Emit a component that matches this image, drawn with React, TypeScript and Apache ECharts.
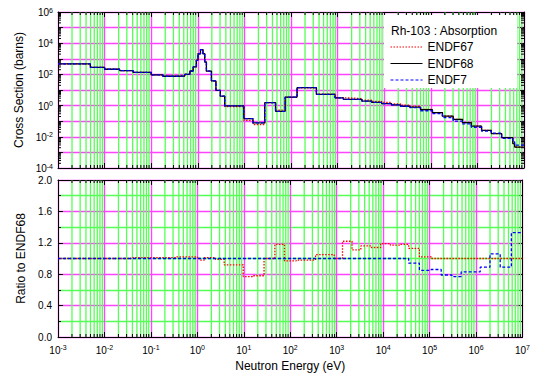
import React, { useEffect, useRef } from 'react';
import * as echarts from 'echarts';

// ---- data ----
// lower group boundaries in eV (last entry = upper end of last group)
const EDGES_EV = [
  1e-3, 4.95e-3, 1e-2, 0.0209, 0.0407, 0.1, 0.178, 0.347, 0.525, 0.676, 0.794, 0.933,
  1.01, 1.14, 1.29, 1.41, 1.53, 1.96, 2.45, 3.05, 3.78, 9.72, 15.3, 27.3, 46.6, 75.0,
  135, 351, 881, 1334, 2138, 3311, 5370, 8810, 14290, 22390, 35480, 60260, 108400,
  177800, 302000, 478600, 741300, 1230000, 1995000, 3311000, 5754000, 6310000, 1e7,
];

// cross sections (barns) per group
const ENDF68 = [
  470, 280, 214, 175, 135, 92, 76, 79, 100, 165, 300, 800,
  2100, 3900, 2100, 620, 160, 38, 9.5, 4.0, 0.95, 0.148, 0.078, 1.55, 0.43,
  3.5, 14, 5.2, 3.1, 2.5, 2.5, 1.95, 1.62, 1.35, 1.1, 0.91, 0.79, 0.55,
  0.355, 0.214, 0.132, 0.081, 0.049, 0.026, 0.016, 0.0089, 0.0036, 0.0022,
];
const ENDF67 = [
  470, 280, 214, 175, 136, 93, 77, 81, 102, 168, 306, 816,
  2100, 3820, 2060, 626, 162, 38.4, 9.4, 3.96, 0.874, 0.114, 0.061, 1.55, 0.507,
  3.4, 13.7, 5.46, 3.1, 3.05, 2.78, 2.26, 1.85, 1.61, 1.29, 1.07, 0.893, 0.561,
  0.355, 0.214, 0.132, 0.081, 0.049, 0.026, 0.016, 0.0089, 0.0036, 0.0022,
];
const ENDF7 = [
  470, 280, 214, 175, 135, 92, 76, 79, 100, 165, 300, 800,
  2100, 3900, 2100, 620, 160, 38, 9.5, 4.0, 0.95, 0.148, 0.078, 1.55, 0.43,
  3.5, 14, 5.2, 3.1, 2.5, 2.5, 1.95, 1.62, 1.35, 1.1, 0.91, 0.743, 0.468,
  0.305, 0.169, 0.102, 0.067, 0.041, 0.023, 0.017, 0.0079, 0.0048, 0.0029,
];

// ratios to ENDF68 per group
const RATIO67 = [
  1.0, 1.0, 1.0, 1.0, 1.01, 1.01, 1.01, 1.02, 1.02, 1.02, 1.02, 1.02,
  1.0, 0.98, 0.98, 1.01, 1.01, 1.01, 0.99, 0.99, 0.92, 0.77, 0.78, 1.0, 1.18,
  0.97, 0.98, 1.05, 1.0, 1.22, 1.11, 1.16, 1.14, 1.19, 1.17, 1.18, 1.13, 1.02,
  1.0, 1.0, 1.0, 1.0, 1.0, 1.0, 1.0, 1.0, 1.0, 1.0,
];
const RATIO7 = [
  1.0, 1.0, 1.0, 1.0, 1.0, 1.0, 1.0, 1.0, 1.0, 1.0, 1.0, 1.0,
  1.0, 1.0, 1.0, 1.0, 1.0, 1.0, 1.0, 1.0, 1.0, 1.0, 1.0, 1.0, 1.0,
  1.0, 1.0, 1.0, 1.0, 1.0, 1.0, 1.0, 1.0, 1.0, 1.0, 1.0, 0.94, 0.85,
  0.86, 0.79, 0.77, 0.83, 0.83, 0.89, 1.06, 0.89, 1.33, 1.33,
];

// axis tick exponents / labels
const X_EXP_MIN = -3;
const X_EXP_MAX = 7;
const Y_EXP_MIN = -4;
const Y_EXP_MAX = 6;
const RATIO_TICKS = [0, 0.4, 0.8, 1.2, 1.6, 2.0];

const TITLE = 'Rh-103 : Absorption';

// ---- styling ----
const FONT = '"Liberation Sans", Arial, Helvetica, sans-serif';
const MAGENTA = '#ff44ff';
const GREEN = '#55ff55';
const lg = Math.log10;

function stepData(vals: number[], tf: (v: number) => number) {
  const pts = vals.map((v, i) => [lg(EDGES_EV[i]), tf(v)]);
  pts.push([lg(EDGES_EV[EDGES_EV.length - 1]), tf(vals[vals.length - 1])]);
  return pts;
}

const X_MINOR: number[] = [];
for (let d = X_EXP_MIN; d < X_EXP_MAX; d++) for (let m = 2; m <= 9; m++) X_MINOR.push(d + lg(m));
const Y_MINOR: number[] = [];
for (let d = Y_EXP_MIN; d < Y_EXP_MAX; d++) for (let m = 2; m <= 9; m++) Y_MINOR.push(d + lg(m));

const supRich = {
  b: { fontSize: 10, fontFamily: FONT, color: '#000', lineHeight: 11, verticalAlign: 'bottom' },
  s: { fontSize: 7, fontFamily: FONT, color: '#000', lineHeight: 7, verticalAlign: 'top' },
};
const supLabel = (v: number) => `{b|10}{s|${Math.round(v)}}`;

const tickStyle = { show: true, inside: true, length: 5, lineStyle: { color: '#000', width: 1 } };
const lineStyleAxis = { show: true, onZero: false, lineStyle: { color: '#000', width: 1 } };

function xAxisBase(gridIndex: number, position: 'top' | 'bottom', main: boolean, labels: boolean): any {
  return {
    type: 'value',
    gridIndex,
    position,
    min: X_EXP_MIN,
    max: X_EXP_MAX,
    interval: 1,
    axisLine: lineStyleAxis,
    axisTick: tickStyle,
    splitLine: { show: main, lineStyle: { color: MAGENTA, width: 1.4 } },
    axisLabel: labels
      ? { show: true, formatter: supLabel, rich: supRich, margin: 7, showMinLabel: true, showMaxLabel: true }
      : { show: false },
  };
}

function minorXSeries(xi: number, yi: number, yRef: number): any {
  return {
    type: 'custom',
    xAxisIndex: xi,
    yAxisIndex: yi,
    silent: true,
    z: 1,
    data: X_MINOR.map((v) => [v, yRef]),
    renderItem: (params: any, api: any) => {
      const cs = params.coordSys;
      const x = api.coord([api.value(0), yRef])[0];
      const top = cs.y;
      const bot = cs.y + cs.height;
      return {
        type: 'group',
        children: [
          { type: 'line', shape: { x1: x, y1: top, x2: x, y2: bot }, style: { stroke: GREEN, lineWidth: 1.3 } },
          { type: 'line', shape: { x1: x, y1: bot, x2: x, y2: bot - 3 }, style: { stroke: '#000', lineWidth: 1 } },
          { type: 'line', shape: { x1: x, y1: top, x2: x, y2: top + 3 }, style: { stroke: '#000', lineWidth: 1 } },
        ],
      };
    },
  };
}

const option: any = {
  animation: false,
  backgroundColor: '#fff',
  textStyle: { fontFamily: FONT },
  grid: [
    { left: 58, top: 12, width: 466, height: 156, show: false },
    { left: 58, top: 180, width: 466, height: 157, show: false },
  ],
  xAxis: [
    xAxisBase(0, 'bottom', true, false),
    xAxisBase(0, 'top', false, false),
    {
      ...xAxisBase(1, 'bottom', true, true),
      name: 'Neutron Energy (eV)',
      nameLocation: 'middle',
      nameGap: 23,
      nameTextStyle: { fontSize: 12, color: '#000', fontFamily: FONT },
    },
    xAxisBase(1, 'top', false, false),
  ],
  yAxis: [
    {
      type: 'value',
      gridIndex: 0,
      position: 'left',
      min: Y_EXP_MIN,
      max: Y_EXP_MAX,
      interval: 1,
      axisLine: lineStyleAxis,
      axisTick: tickStyle,
      splitLine: { show: true, lineStyle: { color: MAGENTA, width: 1.4 } },
      axisLabel: {
        formatter: (v: number) => (Math.abs(Math.round(v)) % 2 === 0 ? supLabel(v) : ''),
        rich: supRich,
        margin: 5,
        showMinLabel: true,
        showMaxLabel: true,
        hideOverlap: false,
      },
      name: 'Cross Section (barns)',
      nameLocation: 'middle',
      nameRotate: 90,
      nameGap: 31,
      nameTextStyle: { fontSize: 12, color: '#000', fontFamily: FONT },
    },
    {
      type: 'value',
      gridIndex: 0,
      position: 'right',
      min: Y_EXP_MIN,
      max: Y_EXP_MAX,
      interval: 1,
      axisLine: lineStyleAxis,
      axisTick: tickStyle,
      splitLine: { show: false },
      axisLabel: { show: false },
    },
    {
      type: 'value',
      gridIndex: 1,
      position: 'left',
      min: RATIO_TICKS[0],
      max: RATIO_TICKS[RATIO_TICKS.length - 1],
      interval: RATIO_TICKS[1] - RATIO_TICKS[0],
      axisLine: lineStyleAxis,
      axisTick: tickStyle,
      minorTick: { show: true, splitNumber: 2, length: 3, lineStyle: { color: '#000' } },
      splitLine: { show: true, lineStyle: { color: MAGENTA, width: 1.4 } },
      minorSplitLine: { show: true, lineStyle: { color: GREEN, width: 1.3 } },
      axisLabel: {
        formatter: (v: number) => v.toFixed(1),
        fontSize: 10,
        lineHeight: 10,
        color: '#000',
        fontFamily: FONT,
        margin: 6,
        showMinLabel: true,
        showMaxLabel: true,
      },
      name: 'Ratio to ENDF68',
      nameLocation: 'middle',
      nameRotate: 90,
      nameGap: 31,
      nameTextStyle: { fontSize: 12, color: '#000', fontFamily: FONT },
    },
    {
      type: 'value',
      gridIndex: 1,
      position: 'right',
      min: RATIO_TICKS[0],
      max: RATIO_TICKS[RATIO_TICKS.length - 1],
      interval: RATIO_TICKS[1] - RATIO_TICKS[0],
      axisLine: lineStyleAxis,
      axisTick: tickStyle,
      minorTick: { show: true, splitNumber: 2, length: 3, lineStyle: { color: '#000' } },
      splitLine: { show: false },
      axisLabel: { show: false },
    },
  ],
  title: {
    text: TITLE,
    left: 391,
    top: 25,
    padding: 0,
    z: 20,
    textStyle: { fontSize: 12, fontWeight: 'normal', color: '#000', fontFamily: FONT },
  },
  legend: {
    data: ['ENDF67', 'ENDF68', 'ENDF7'],
    orient: 'vertical',
    left: 390,
    top: 41,
    padding: 0,
    itemWidth: 32,
    itemHeight: 10,
    itemGap: 4.5,
    z: 20,
    selectedMode: false,
    itemStyle: { opacity: 0 },
    lineStyle: { width: 1 },
    textStyle: { fontSize: 12, color: '#000', fontFamily: FONT },
  },
  graphic: [
    {
      type: 'rect',
      z: 15,
      shape: { x: 384, y: 15, width: 133, height: 73 },
      style: { fill: '#fff' },
    },
  ],
  series: [
    minorXSeries(0, 0, 0),
    minorXSeries(2, 2, 1),
    {
      type: 'custom',
      xAxisIndex: 0,
      yAxisIndex: 0,
      silent: true,
      z: 1,
      data: Y_MINOR.map((v) => [X_EXP_MIN, v]),
      renderItem: (params: any, api: any) => {
        const cs = params.coordSys;
        const y = api.coord([X_EXP_MIN, api.value(1)])[1];
        const l = cs.x;
        const r = cs.x + cs.width;
        return {
          type: 'group',
          children: [
            { type: 'line', shape: { x1: l, y1: y, x2: l + 3, y2: y }, style: { stroke: '#000', lineWidth: 1 } },
            { type: 'line', shape: { x1: r, y1: y, x2: r - 3, y2: y }, style: { stroke: '#000', lineWidth: 1 } },
          ],
        };
      },
    },
    {
      name: 'ENDF67',
      type: 'line',
      xAxisIndex: 0,
      yAxisIndex: 0,
      step: 'end',
      symbol: 'none',
      z: 3,
      color: '#ff0000',
      lineStyle: { color: '#ff0000', width: 1.3, type: [1.5, 1.5] },
      data: stepData(ENDF67, lg),
    },
    {
      name: 'ENDF68',
      type: 'line',
      xAxisIndex: 0,
      yAxisIndex: 0,
      step: 'end',
      symbol: 'none',
      z: 4,
      color: '#000000',
      lineStyle: { color: '#000000', width: 1.3, type: 'solid' },
      data: stepData(ENDF68, lg),
    },
    {
      name: 'ENDF7',
      type: 'line',
      xAxisIndex: 0,
      yAxisIndex: 0,
      step: 'end',
      symbol: 'none',
      z: 5,
      color: '#0000ff',
      lineStyle: { color: '#0000ff', width: 1.3, type: [3, 2] },
      data: stepData(ENDF7, lg),
    },
    {
      name: 'ENDF67',
      type: 'line',
      xAxisIndex: 2,
      yAxisIndex: 2,
      step: 'end',
      symbol: 'none',
      z: 3,
      color: '#ff0000',
      lineStyle: { color: '#ff0000', width: 1.3, type: [1.5, 1.5] },
      data: stepData(RATIO67, (v) => v),
    },
    {
      name: 'ENDF7',
      type: 'line',
      xAxisIndex: 2,
      yAxisIndex: 2,
      step: 'end',
      symbol: 'none',
      z: 5,
      color: '#0000ff',
      lineStyle: { color: '#0000ff', width: 1.3, type: [3, 2] },
      data: stepData(RATIO7, (v) => v),
    },
  ],
};

export default function App() {
  const ref = useRef<HTMLDivElement>(null);
  useEffect(() => {
    if (!ref.current) return;
    const chart = echarts.init(ref.current, null, { renderer: 'svg' });
    chart.setOption(option);
    return () => chart.dispose();
  }, []);
  return (
    <div
      ref={ref}
      style={{ position: 'absolute', left: 0, top: 0, width: 533, height: 379, background: '#fff' }}
    />
  );
}
